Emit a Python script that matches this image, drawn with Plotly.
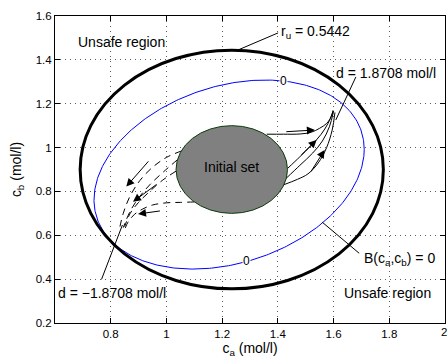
import numpy as np
import plotly.graph_objects as go

# ---------------- data ----------------
x_tick_vals = [0.8, 1.0, 1.2, 1.4, 1.6, 1.8, 2.0]
x_tick_text = ["0.8", "1", "1.2", "1.4", "1.6", "1.8", "2"]
y_tick_vals = [0.2, 0.4, 0.6, 0.8, 1.0, 1.2, 1.4, 1.6]
y_tick_text = ["0.2", "0.4", "0.6", "0.8", "1", "1.2", "1.4", "1.6"]

# unsafe-region boundary (circle of radius r_u around the operating point)
center_ca = 1.2345
center_cb = 0.9
r_u = 0.5442
# initial set (circle)
r_init = 0.2
# barrier level set B(ca,cb)=0 : tilted ellipse
b_center = [1.225, 0.877]
b_radii = [0.485, 0.431]
b_phase = 0.27

# trajectories with d = +1.8708 mol/l (solid)
fwd_1_ca = [1.36, 1.42, 1.48, 1.52, 1.55, 1.575, 1.592, 1.598]
fwd_1_cb = [1.061, 1.061, 1.062, 1.070, 1.088, 1.110, 1.141, 1.170]
fwd_2_ca = [1.435, 1.479, 1.520, 1.555, 1.580, 1.598]
fwd_2_cb = [0.905, 0.958, 1.010, 1.060, 1.110, 1.165]
fwd_3_ca = [1.430, 1.479, 1.525, 1.560, 1.585, 1.600]
fwd_3_cb = [0.860, 0.919, 0.975, 1.030, 1.095, 1.165]
fwd_4_ca = [1.420, 1.470, 1.508, 1.545, 1.575, 1.595, 1.605]
fwd_4_cb = [0.830, 0.855, 0.880, 0.930, 1.000, 1.080, 1.160]

# trajectories with d = -1.8708 mol/l (dashed)
bwd_1_ca = [1.100, 1.050, 1.000, 0.950, 0.915, 0.885, 0.862, 0.850]
bwd_1_cb = [0.752, 0.750, 0.748, 0.738, 0.720, 0.695, 0.660, 0.625]
bwd_2_ca = [1.035, 0.985, 0.940, 0.900, 0.870, 0.850]
bwd_2_cb = [0.893, 0.850, 0.800, 0.750, 0.700, 0.640]
bwd_3_ca = [1.040, 0.990, 0.940, 0.900, 0.870, 0.845]
bwd_3_cb = [0.945, 0.890, 0.830, 0.770, 0.710, 0.635]
bwd_4_ca = [1.055, 1.000, 0.950, 0.905, 0.870, 0.845, 0.830]
bwd_4_cb = [0.985, 0.955, 0.910, 0.850, 0.780, 0.700, 0.620]

# direction arrows: (tail_ca, tail_cb, head_ca, head_cb)
fwd_arrows = [
    (1.425, 1.072, 1.533, 1.080),
    (1.479, 0.960, 1.539, 1.035),
    (1.515, 0.883, 1.568, 0.989),
]
bwd_arrows = [
    (0.940, 0.944, 0.856, 0.822),
    (0.970, 0.837, 0.880, 0.753),
    (0.982, 0.712, 0.898, 0.697),
]

# ---------------- figure ----------------
FONT = "Liberation Sans, Arial, Helvetica, sans-serif"
fig = go.Figure()

# barrier zero level set (blue)
t = np.linspace(0, 2 * np.pi, 400)
bx = b_center[0] + b_radii[0] * np.cos(t)
by = b_center[1] + b_radii[1] * np.sin(t + b_phase)
fig.add_trace(go.Scatter(x=bx, y=by, mode="lines",
                         line=dict(color="#0000ff", width=1), hoverinfo="skip"))

for xs, ys in [(fwd_1_ca, fwd_1_cb), (fwd_2_ca, fwd_2_cb),
               (fwd_3_ca, fwd_3_cb), (fwd_4_ca, fwd_4_cb)]:
    fig.add_trace(go.Scatter(x=xs, y=ys, mode="lines", line_shape="spline",
                             line=dict(color="black", width=1), hoverinfo="skip"))
for xs, ys in [(bwd_1_ca, bwd_1_cb), (bwd_2_ca, bwd_2_cb),
               (bwd_3_ca, bwd_3_cb), (bwd_4_ca, bwd_4_cb)]:
    fig.add_trace(go.Scatter(x=xs, y=ys, mode="lines", line_shape="spline",
                             line=dict(color="black", width=1, dash="7px,5px"),
                             hoverinfo="skip"))

shapes = [
    dict(type="circle", xref="x", yref="y",
         x0=center_ca - r_init, x1=center_ca + r_init,
         y0=center_cb - r_init, y1=center_cb + r_init,
         fillcolor="#808080", line=dict(color="#0b3d0b", width=1), layer="above"),
    dict(type="circle", xref="x", yref="y",
         x0=center_ca - r_u, x1=center_ca + r_u,
         y0=center_cb - r_u, y1=center_cb + r_u,
         line=dict(color="black", width=3), layer="above"),
    # label leader lines
    dict(type="line", xref="x", yref="y", x0=1.401, y0=1.523, x1=1.257, y1=1.445,
         line=dict(color="black", width=1)),
    dict(type="line", xref="x", yref="y", x0=1.680, y0=1.322, x1=1.608, y1=1.126,
         line=dict(color="black", width=1)),
    dict(type="line", xref="x", yref="y", x0=0.767, y0=0.399, x1=0.842, y1=0.647,
         line=dict(color="black", width=1)),
    dict(type="line", xref="x", yref="y", x0=1.692, y0=0.518, x1=1.560, y1=0.659,
         line=dict(color="black", width=1)),
]

ann = []
def txt(x, y, s, xanchor="left", size=14, **kw):
    ann.append(dict(x=x, y=y, xref="x", yref="y", text=s, showarrow=False,
                    xanchor=xanchor, yanchor="middle",
                    font=dict(family=FONT, size=size, color="black"), **kw))

txt(0.838, 1.483, "Unsafe region", xanchor="center")
txt(1.795, 0.335, "Unsafe region", xanchor="center")
txt(1.235, 0.913, "Initial set", xanchor="center")
txt(1.405, 1.525, "r<sub>u</sub> = 0.5442")
txt(1.603, 1.340, "d = 1.8708 mol/l")
txt(0.603, 0.335, "d = \u22121.8708 mol/l")
txt(1.702, 0.492, "B(c<sub>a</sub>,c<sub>b</sub>) = 0")
txt(1.419, 1.304, "0", xanchor="center", size=12, bgcolor="white", borderpad=0)
txt(1.287, 0.484, "0", xanchor="center", size=12, bgcolor="white", borderpad=0)

# last x tick label sits on the window edge (x=2 is the right end of the axis)
ann.append(dict(x=1.0, y=0, xref="paper", yref="paper", yshift=-9, xshift=-1,
                text=x_tick_text[-1], showarrow=False, xanchor="center",
                yanchor="middle", font=dict(family=FONT, size=11.5, color="black")))
axis_x_text = x_tick_text[:-1] + [""]

for tx, ty, hx, hy in fwd_arrows + bwd_arrows:
    ann.append(dict(x=hx, y=hy, ax=tx, ay=ty, xref="x", yref="y",
                    axref="x", ayref="y", text="", showarrow=True,
                    arrowhead=2, arrowsize=1.6, arrowwidth=1, arrowcolor="black",
                    standoff=0, startstandoff=0))

axis_common = dict(showline=True, linecolor="black", linewidth=1, mirror="ticks",
                   ticks="inside", ticklen=5, tickcolor="black",
                   showgrid=True, gridcolor="#5a5a5a", gridwidth=1, griddash="1px,4px",
                   zeroline=False,
                   tickfont=dict(family=FONT, size=11.5, color="black"))

fig.update_layout(
    width=447, height=358,
    margin=dict(l=55, r=2, t=16, b=35),
    paper_bgcolor="white", plot_bgcolor="white",
    showlegend=False,
    shapes=shapes, annotations=ann,
    xaxis=dict(range=[0.6, 2.0], tickvals=x_tick_vals, ticktext=axis_x_text,
               title=dict(text="c<sub>a</sub> (mol/l)", standoff=2,
                          font=dict(family=FONT, size=14, color="black")),
               automargin=False, **axis_common),
    yaxis=dict(range=[0.2, 1.6], tickvals=y_tick_vals, ticktext=y_tick_text,
               title=dict(text="c<sub>b</sub> (mol/l)", standoff=10,
                          font=dict(family=FONT, size=14, color="black")),
               automargin=False, **axis_common),
)

# remove the page's default body margin so the figure fills the window exactly
fig.write_html("out.html",
               config={"displayModeBar": False},
               post_script="document.body.style.margin='0';"
                           "document.body.style.overflow='hidden';")
